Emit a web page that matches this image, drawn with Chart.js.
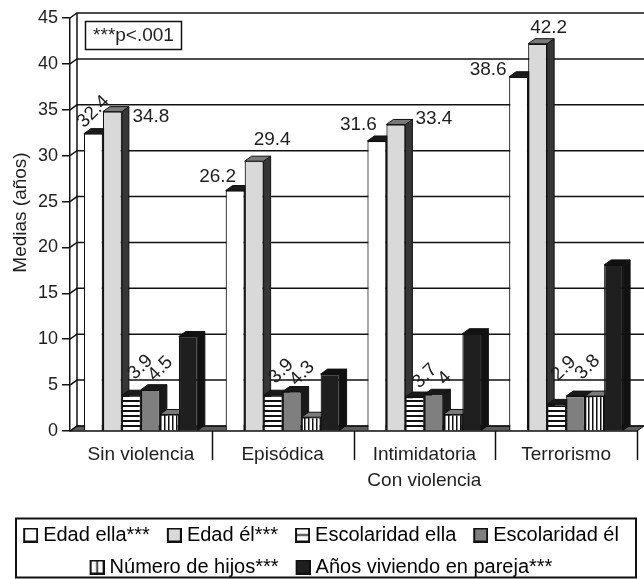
<!DOCTYPE html>
<html>
<head>
<meta charset="utf-8">
<script src="https://cdn.jsdelivr.net/npm/chart.js@4.4.1/dist/chart.umd.min.js"></script>
<style>
  html, body { margin: 0; padding: 0; background: #fff; }
  #wrap { width: 644px; height: 579px; position: relative; }
</style>
</head>
<body>
<div id="wrap"><canvas id="chart"></canvas></div>
<script>
'use strict';
let categories = ['Sin violencia', 'Episódica', 'Intimidatoria', 'Terrorismo'];
let seriesNames = ['Edad ella***', 'Edad él***', 'Escolaridad ella', 'Escolaridad él', 'Número de hijos***', 'Años viviendo en pareja***'];
let edadElla = [32.4, 26.2, 31.6, 38.6];
let edadEl = [34.8, 29.4, 33.4, 42.2];
let escolaridadElla = [3.9, 3.9, 3.7, 2.9];
let escolaridadEl = [4.5, 4.3, 4, 3.8];
let numeroHijos = [1.8, 1.5, 1.8, 3.8];
let aniosPareja = [10.3, 6.2, 10.6, 18.1];
let yMin = 0, yMax = 45, yStep = 5;
let yTitle = 'Medias (años)';
let groupTitle = 'Con violencia';
let noteText = '***p<.001';

const FONT = '"Liberation Sans", Arial, sans-serif';
const INK = '#1e1e1e';
const DX = 7, DY = 5; // depth of the fake 3d

Chart.defaults.font.family = FONT;
Chart.defaults.color = INK;

let canvas = document.getElementById('chart');
let ctx = canvas.getContext('2d');

function stripes(horizontal){
    let c = document.createElement('canvas');
    c.width = horizontal ? 5 : 4;
    c.height = horizontal ? 5 : 4;
    let g = c.getContext('2d');
    g.fillStyle = '#fff';
    g.fillRect(0, 0, c.width, c.height);
    g.fillStyle = '#111';
    if(horizontal) g.fillRect(0, 0, c.width, 2);
    else g.fillRect(0, 0, 1.5, c.height);
    return ctx.createPattern(c, 'repeat');
}

// legend icon: 15px square drawn on the right part of a wider transparent canvas,
// so it sits close to its text
function legendIcon(fill, line){
    let c = document.createElement('canvas');
    c.width = 25; c.height = 15;
    let g = c.getContext('2d');
    g.translate(10, 0);
    g.fillStyle = fill;
    g.fillRect(1, 1, 13, 13);
    g.strokeStyle = '#111';
    g.lineWidth = 1.6;
    if(line === 'h'){ g.beginPath(); g.moveTo(1, 7.5); g.lineTo(14, 7.5); g.stroke(); }
    if(line === 'v'){ g.beginPath(); g.moveTo(7.5, 1); g.lineTo(7.5, 14); g.stroke(); }
    g.lineWidth = 2;
    g.strokeRect(1, 1, 13, 13);
    return c;
}

let looks = [
    {front: '#ffffff', top: '#1a1a1a', side: '#1a1a1a', icon: legendIcon('#ffffff')},
    {front: '#d9d9d9', top: '#7a7a7a', side: '#363636', icon: legendIcon('#d9d9d9')},
    {front: stripes(true), top: '#1a1a1a', side: '#2a2a2a', icon: legendIcon('#ffffff', 'h')},
    {front: '#7f7f7f', top: '#1a1a1a', side: '#1a1a1a', icon: legendIcon('#7f7f7f')},
    {front: stripes(false), top: '#7a7a7a', side: '#2a2a2a', icon: legendIcon('#ffffff', 'v')},
    {front: '#1f1f1f', top: '#111111', side: '#111111', icon: legendIcon('#1f1f1f')},
];
let seriesValues = [edadElla, edadEl, escolaridadElla, escolaridadEl, numeroHijos, aniosPareja];

// where each value label sits, relative to the bar centre / top
let labelPlace = {
    0: [{dx: 0, dy: -22, rot: -45, align: 'center'}, {dx: 1, dy: -14, align: 'right'},
        {dx: 0, dy: -16, align: 'right'}, {dx: -12, dy: -7, align: 'right'}],
    1: [{dx: 20, dy: 5, align: 'left'}, {dx: 18, dy: -21, align: 'center'},
        {dx: 19.5, dy: -6, align: 'left'}, {dx: 11, dy: -16, align: 'center'}],
    2: [{dx: 9, dy: -28, rot: -45}, {dx: 8, dy: -24, rot: -45}, {dx: 10, dy: -21, rot: -45}, {dx: 7, dy: -36, rot: -45}],
    3: [{dx: 10, dy: -21, rot: -45}, {dx: 10, dy: -18, rot: -45}, {dx: 11, dy: -16, rot: -45}, {dx: 12, dy: -29, rot: -45}],
};

function poly(c, pts, fill){
    c.beginPath();
    c.moveTo(pts[0][0], pts[0][1]);
    for (let i = 1; i < pts.length; i++) c.lineTo(pts[i][0], pts[i][1]);
    c.closePath();
    if(fill){ c.fillStyle = fill; c.fill(); }
    c.stroke();
}

let depthPlugin = {
    id: 'depth',
    beforeDatasetsDraw(chart){
        let c = chart.ctx, a = chart.chartArea, y = chart.scales.y;
        c.save();
        c.strokeStyle = '#111';
        c.lineWidth = 1;
        // floor
        poly(c, [[a.left, a.bottom], [a.left + DX, a.bottom - DY], [a.right + DX, a.bottom - DY], [a.right, a.bottom]], '#5c5c5c');
        // back wall and left wall
        c.lineWidth = 1.5;
        y.ticks.forEach(t => {
            let py = y.getPixelForValue(t.value);
            c.beginPath();
            c.moveTo(a.left, py);
            c.lineTo(a.left + DX, py - DY);
            c.lineTo(a.right + DX, py - DY);
            c.stroke();
        });
        c.beginPath();
        c.moveTo(a.left + DX, a.bottom - DY);
        c.lineTo(a.left + DX, y.getPixelForValue(yMax) - DY);
        c.stroke();
        // sides and tops of the bars, left to right
        c.lineWidth = 1;
        for (let j = 0; j < categories.length; j++) {
            chart.data.datasets.forEach((ds, i) => {
                let el = chart.getDatasetMeta(i).data[j];
                let p = el.getProps(['x', 'y', 'base', 'width'], true);
                let l = p.x - p.width / 2, r = p.x + p.width / 2;
                poly(c, [[r, p.y], [r + DX, p.y - DY], [r + DX, p.base - DY], [r, p.base]], looks[i].side);
                poly(c, [[l, p.y], [l + DX, p.y - DY], [r + DX, p.y - DY], [r, p.y]], looks[i].top);
            });
        }
        c.restore();
    },
    afterDatasetsDraw(chart){
        let c = chart.ctx;
        c.save();
        c.font = '19px ' + FONT;
        c.fillStyle = INK;
        c.textBaseline = 'middle';
        Object.keys(labelPlace).forEach(i => {
            let meta = chart.getDatasetMeta(+i);
            labelPlace[i].forEach((pl, j) => {
                let el = meta.data[j];
                let text = String(seriesValues[i][j]);
                c.save();
                c.translate(el.x + pl.dx, el.y + pl.dy);
                if(pl.rot) c.rotate(pl.rot * Math.PI / 180);
                c.textAlign = pl.align || 'center';
                c.fillText(text, 0, 0);
                c.restore();
            });
        });
        c.restore();
    },
    afterDraw(chart){
        let c = chart.ctx, a = chart.chartArea, x = chart.scales.x;
        let half = (x.getPixelForValue(1) - x.getPixelForValue(0)) / 2;
        c.save();
        c.strokeStyle = '#111';
        c.lineWidth = 1.5;
        // category separators under the axis
        for (let j = 0; j < categories.length; j++) {
            let px = Math.round(x.getPixelForValue(j) + half) + 0.5;
            c.beginPath();
            c.moveTo(px, a.bottom);
            c.lineTo(px, a.bottom + 29);
            c.stroke();
        }
        c.fillStyle = INK;
        c.textAlign = 'center';
        c.textBaseline = 'middle';
        c.font = '19px ' + FONT;
        // "Con violencia" spans the last three groups
        let gx = (x.getPixelForValue(1) - half + a.right) / 2;
        c.fillText(groupTitle, gx, a.bottom + 50);
        // y title
        c.save();
        c.translate(21, (a.top + a.bottom) / 2 - 12);
        c.rotate(-Math.PI / 2);
        c.fillText(yTitle, 0, 0);
        c.restore();
        // note box
        let bx = a.left + 15.5, by = a.top + 3.5;
        c.fillStyle = '#fff';
        c.fillRect(bx, by, 96, 28);
        c.strokeRect(bx, by, 96, 28);
        c.fillStyle = INK;
        c.fillText(noteText, bx + 48, by + 14);
        // frame round the legend
        let hb = chart.legend.legendHitBoxes;
        let top = hb[0].top - 7, bottom = Math.min(hb[hb.length - 1].top + hb[hb.length - 1].height + 1, chart.height - 2);
        c.lineWidth = 2;
        c.strokeRect(16, Math.round(top) + 0.5, 620, Math.round(bottom - top));
        c.restore();
    }
};

let datasets = seriesNames.map((name, i) => ({
    label: name,
    data: seriesValues[i],
    backgroundColor: looks[i].front,
    borderColor: '#111',
    borderWidth: 1.2,
    categoryPercentage: 0.804,
    barPercentage: 1,
}));

new Chart(ctx, {
    type: 'bar',
    data: {labels: categories, datasets: datasets},
    options: {
        responsive: true,
        maintainAspectRatio: false,
        animation: false,
        events: [],
        layout: {padding: {top: 18, right: 7, bottom: -8, left: 0}},
        scales: {
            x: {
                grid: {display: false, drawTicks: false},
                border: {display: true, color: '#111', width: 1.5},
                ticks: {font: {size: 19}, color: INK, padding: 12, maxRotation: 0, autoSkip: false},
                afterFit: s => { s.height = 82; },
            },
            y: {
                min: yMin, max: yMax,
                grid: {drawOnChartArea: false, tickLength: 8, color: '#111', lineWidth: 1.5},
                border: {display: true, color: '#111', width: 1.5},
                ticks: {stepSize: yStep, font: {size: 18}, color: INK, padding: 4},
                afterFit: s => { s.width = 70; },
            },
        },
        plugins: {
            tooltip: {enabled: false},
            legend: {
                position: 'bottom',
                labels: {
                    usePointStyle: true,
                    boxWidth: 15,
                    boxHeight: 15,
                    padding: 12,
                    font: {size: 20},
                    color: INK,
                    generateLabels: chart => chart.data.datasets.map((ds, i) => ({
                        text: ds.label,
                        pointStyle: looks[i].icon,
                        fillStyle: '#fff',
                        strokeStyle: '#111',
                        lineWidth: 0,
                        datasetIndex: i,
                        hidden: false,
                    })),
                },
            },
        },
    },
    plugins: [depthPlugin],
});
</script>
</body>
</html>
